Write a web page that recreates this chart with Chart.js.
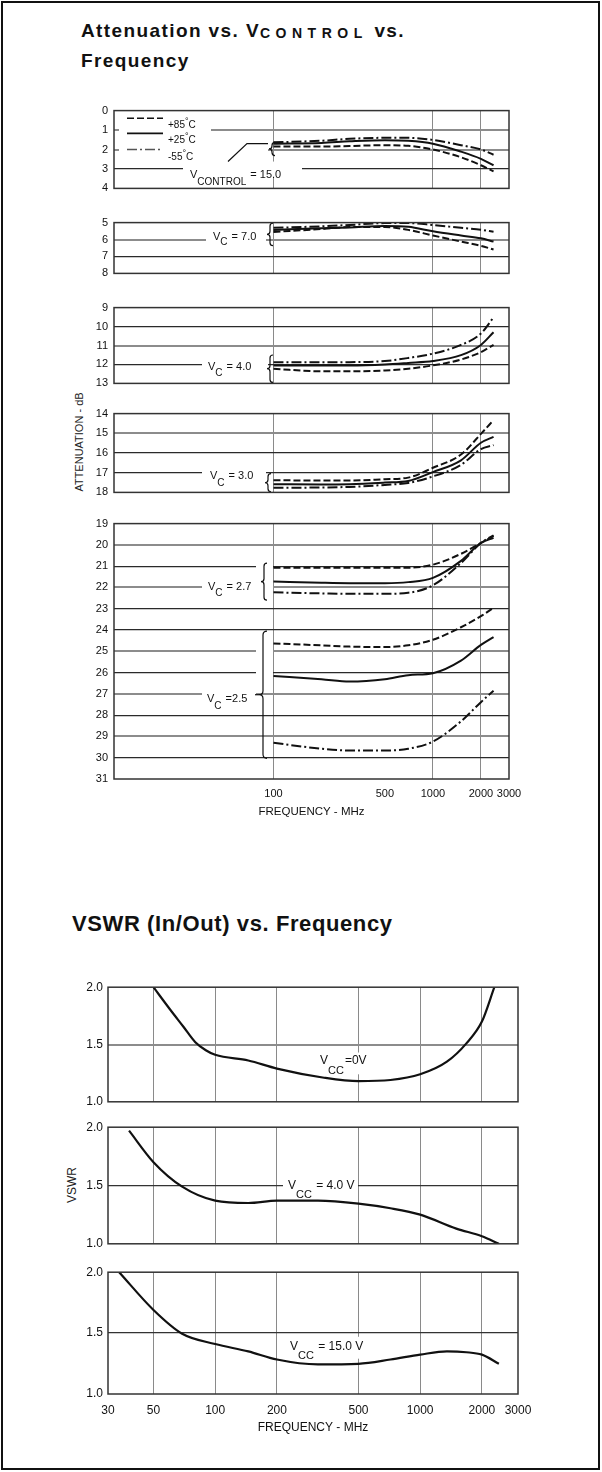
<!DOCTYPE html>
<html><head><meta charset="utf-8">
<title>Attenuation / VSWR vs Frequency</title>
<script src="https://cdn.jsdelivr.net/npm/chart.js@4.4.1/dist/chart.umd.min.js"></script>
<style>
 html,body{margin:0;padding:0;background:#fff}
 body{position:relative;width:602px;height:1472px;overflow:hidden;font-family:'Liberation Sans',Arial,sans-serif;color:#111}
 #frame{position:absolute;left:1px;top:1px;width:595px;height:1465px;border:2px solid #111}
 .t{position:absolute;font-weight:bold;white-space:nowrap;line-height:1;color:#111}
 .ctl{font-size:14px;letter-spacing:5.5px;position:relative;top:1px}
 .yl{position:absolute;white-space:nowrap;font-size:11px;transform:translate(-50%,-50%) rotate(-90deg);color:#222}
 canvas{position:absolute}
</style></head>
<body>
<div id="frame"></div>
<div class="t" style="left:81px;top:21px;font-size:19px;letter-spacing:1.4px">Attenuation vs. V<span class="ctl">CONTROL</span> vs.</div>
<div class="t" style="left:81px;top:51px;font-size:19px;letter-spacing:1.4px">Frequency</div>
<div class="t" style="left:72px;top:913px;font-size:22px;letter-spacing:0.6px">VSWR (In/Out) vs. Frequency</div>
<div class="yl" style="left:79px;top:442px">ATTENUATION - dB</div>
<div class="yl" style="left:72px;top:1185px;font-size:12px">VSWR</div>
<canvas id="a1"></canvas><canvas id="a2"></canvas><canvas id="a3"></canvas><canvas id="a4"></canvas><canvas id="a5"></canvas>
<canvas id="v1"></canvas><canvas id="v2"></canvas><canvas id="v3"></canvas>
<script>
// ---------------- DATA ----------------
const attFreq = [100, 200, 300, 500, 700, 1000, 1500, 2000, 2400];
const tempLabels = ['+85°C', '+25°C', '-55°C'];
// V_CONTROL = 15.0
const vc150_p85 = [1.85, 1.85, 1.82, 1.78, 1.81, 2.00, 2.40, 2.81, 3.13];
const vc150_p25 = [1.70, 1.66, 1.58, 1.52, 1.55, 1.70, 2.11, 2.48, 2.81];
const vc150_m55 = [1.63, 1.55, 1.45, 1.40, 1.40, 1.51, 1.78, 2.00, 2.27];
// V_C = 7.0
const vc70_p85 = [5.55, 5.38, 5.26, 5.26, 5.43, 5.76, 6.12, 6.37, 6.59];
const vc70_p25 = [5.43, 5.34, 5.29, 5.20, 5.25, 5.51, 5.76, 5.93, 6.12];
const vc70_m55 = [5.31, 5.22, 5.14, 5.03, 5.03, 5.14, 5.31, 5.42, 5.54];
// V_C = 4.0
const vc40_p85 = [12.23, 12.36, 12.36, 12.32, 12.23, 12.05, 11.74, 11.35, 10.97];
const vc40_p25 = [12.05, 12.05, 12.05, 12.00, 11.92, 11.82, 11.51, 10.97, 10.30];
const vc40_m55 = [11.89, 11.89, 11.88, 11.82, 11.66, 11.43, 10.97, 10.37, 9.51];
// V_C = 3.0
const vc30_p85 = [17.38, 17.40, 17.40, 17.33, 17.25, 16.75, 16.08, 15.03, 14.33];
const vc30_p25 = [17.58, 17.60, 17.58, 17.50, 17.42, 16.97, 16.37, 15.48, 15.18];
const vc30_m55 = [17.77, 17.75, 17.72, 17.62, 17.52, 17.19, 16.60, 15.80, 15.60];
// V_C = 2.7
const vc27_p85 = [21.07, 21.07, 21.07, 21.07, 21.07, 20.93, 20.42, 19.91, 19.58];
const vc27_p25 = [21.72, 21.78, 21.80, 21.80, 21.75, 21.55, 20.75, 19.91, 19.67];
const vc27_m55 = [22.23, 22.28, 22.30, 22.30, 22.25, 21.90, 20.85, 19.91, 19.55];
// V_C = 2.5
const vc25_p85 = [24.63, 24.72, 24.78, 24.80, 24.72, 24.46, 23.87, 23.35, 22.95];
const vc25_p25 = [26.16, 26.31, 26.42, 26.31, 26.12, 26.03, 25.44, 24.70, 24.33];
const vc25_m55 = [29.30, 29.58, 29.66, 29.66, 29.58, 29.24, 28.29, 27.39, 26.85];

const attXTicks = [100, 500, 1000, 2000, 3000];
const attXTickLabels = ['100', '500', '1000', '2000', '3000'];
const attXGridAt = [100, 1000, 2000];
const attYTicks = [[0,1,2,3,4],[5,6,7,8],[9,10,11,12,13],[14,15,16,17,18],[19,20,21,22,23,24,25,26,27,28,29,30,31]];
const attDarkLines = [3, 7, 10, 12, 16, 17, 21, 23, 24, 26, 28, 30];

// VSWR
const vswr0Freq  = [50, 60, 70, 80, 90, 100, 145, 200, 340, 500, 716, 1000, 1350, 1680, 2000, 2300];
const vswr0      = [2.00, 1.81, 1.655, 1.52, 1.45, 1.41, 1.36, 1.29, 1.21, 1.18, 1.19, 1.24, 1.35, 1.51, 1.70, 2.00];
const vswr4Freq  = [38, 50, 69, 100, 145, 200, 317, 500, 716, 1000, 1500, 2000, 2420];
const vswr4      = [1.97, 1.70, 1.49, 1.37, 1.35, 1.37, 1.37, 1.345, 1.305, 1.25, 1.13, 1.065, 1.00];
const vswr15Freq = [34, 50, 69, 100, 145, 200, 317, 500, 716, 1000, 1350, 1680, 2000, 2420];
const vswr15     = [2.00, 1.69, 1.495, 1.41, 1.35, 1.283, 1.243, 1.248, 1.283, 1.323, 1.35, 1.343, 1.323, 1.248];

const vswrXTicks = [30, 50, 100, 200, 500, 1000, 2000, 3000];
const vswrXTickLabels = ['30', '50', '100', '200', '500', '1000', '2000', '3000'];
const vswrXGridAt = [50, 100, 200, 500, 1000, 2000];
const vswrYTicks = [1.0, 1.5, 2.0];
const vswrYTickLabels = ['1.0', '1.5', '2.0'];

// ---------------- RENDER ----------------
const FAM = "'Liberation Sans', Arial, sans-serif";
const INK = '#111';
const DASH = [[7, 3], [], [10, 3, 2, 3]];
const pts = (fs, vs) => fs.map((f, i) => ({x: f, y: vs[i]}));
const tempSets = (a, b, c) => [a, b, c].map((vals, i) => ({
  label: tempLabels[i], data: pts(attFreq, vals), borderDash: DASH[i],
  borderColor: INK, borderWidth: 2, pointRadius: 0, cubicInterpolationMode: 'monotone', fill: false
}));
const oneSet = (label, fs, vs) => [{label, data: pts(fs, vs), borderColor: INK, borderWidth: 2.2,
  pointRadius: 0, cubicInterpolationMode: 'monotone', fill: false}];

function rich(ctx, x, y, parts, size, subDy) {
  let cx = x;
  for (const [t, k] of parts) {
    const s = k === 0 ? size : size - 1;
    ctx.font = s + 'px ' + FAM;
    const dy = k === 1 ? subDy : (k === 2 ? -4 : 0);
    ctx.fillText(t, cx, y + dy);
    cx += ctx.measureText(t).width + (k === 1 ? 1 : 0);
  }
}
function brace(ctx, x, y1, y2, w) {
  const ym = (y1 + y2) / 2;
  ctx.beginPath();
  ctx.moveTo(x + w, y1);
  ctx.quadraticCurveTo(x, y1, x, y1 + w);
  ctx.lineTo(x, ym - w);
  ctx.quadraticCurveTo(x, ym, x - w, ym);
  ctx.quadraticCurveTo(x, ym, x, ym + w);
  ctx.lineTo(x, y2 - w);
  ctx.quadraticCurveTo(x, y2, x + w, y2);
  ctx.stroke();
}

function panel(id, rect, m, cfg) {
  const cv = document.getElementById(id);
  const W = rect.R - rect.L + m.l + m.r, H = rect.B - rect.T + m.t + m.b;
  const ox = rect.L - m.l, oy = rect.T - m.t;
  cv.width = W; cv.height = H;
  Object.assign(cv.style, {left: ox + 'px', top: oy + 'px', width: W + 'px', height: H + 'px'});
  const a = cfg.ann || {};
  const annPlugin = {
    id: 'ann',
    beforeDatasetsDraw(chart) {
      const ctx = chart.ctx, ys = chart.scales.y;
      const X = px => px - ox, Y = v => ys.getPixelForValue(v);
      ctx.save();
      ctx.fillStyle = '#fff';
      (a.masks || []).forEach(([x1, x2, v1, v2]) => {
        const ya = Y(v1), yb = Y(v2);
        ctx.fillRect(X(x1), Math.min(ya, yb), x2 - x1, Math.abs(yb - ya));
      });
      ctx.strokeStyle = INK; ctx.fillStyle = INK; ctx.lineWidth = 1.2;
      ctx.textBaseline = 'alphabetic'; ctx.textAlign = 'left';
      (a.labels || []).forEach(l => rich(ctx, X(l.x), Y(l.v) + l.dy, l.parts, l.size, l.sub));
      (a.braces || []).forEach(b => brace(ctx, X(b.x), Y(b.v1), Y(b.v2), b.w));
      (a.leaders || []).forEach(path => {
        ctx.beginPath();
        path.forEach(([px, v], i) => i ? ctx.lineTo(X(px), Y(v)) : ctx.moveTo(X(px), Y(v)));
        ctx.stroke();
      });
      if (a.legend) {
        const L = a.legend;
        chart.data.datasets.forEach((ds, i) => {
          const y = Y(L.vs[i]);
          ctx.save();
          ctx.lineWidth = 1.6; ctx.setLineDash(ds.borderDash || []);
          ctx.strokeStyle = i === 2 ? '#555' : INK;
          ctx.beginPath(); ctx.moveTo(X(L.x1), y); ctx.lineTo(X(L.x2), y); ctx.stroke();
          ctx.restore();
          const [pre, post] = ds.label.split('°');
          rich(ctx, X(L.tx), y + L.dy, [[pre, 0], ['°', 2], [post, 0]], L.size, 0);
        });
      }
      ctx.restore();
    },
    afterDatasetsDraw(chart) {
      const {left, top, right, bottom} = chart.chartArea, ctx = chart.ctx;
      ctx.save(); ctx.strokeStyle = '#333'; ctx.lineWidth = 1.5;
      ctx.strokeRect(left, top, right - left, bottom - top); ctx.restore();
    }
  };
  const none = 'rgba(0,0,0,0)';
  return new Chart(cv, {
    type: 'line',
    data: {datasets: cfg.datasets},
    options: {
      responsive: false, maintainAspectRatio: false, animation: false, devicePixelRatio: 1,
      layout: {padding: {top: m.t, right: m.r, left: 0, bottom: 0}},
      plugins: {legend: {display: false}, tooltip: {enabled: false}},
      scales: {
        x: {
          type: 'logarithmic', min: cfg.xMin, max: cfg.xMax,
          afterBuildTicks: s => { s.ticks = cfg.xTicks.map(v => ({value: v})); },
          afterFit: s => { s.height = m.b; },
          border: {display: false},
          grid: {drawTicks: false, lineWidth: 1,
                 color: c => (c.tick && cfg.xGrid.includes(c.tick.value)) ? '#8a8a8a' : none},
          ticks: {display: cfg.showX, autoSkip: false, maxRotation: 0, minRotation: 0, padding: cfg.xPad,
                  color: INK, font: {family: FAM, size: cfg.xFont}, callback: (v, i) => cfg.xLabels[i]},
          title: {display: cfg.showX, text: 'FREQUENCY - MHz', color: INK,
                  font: {family: FAM, size: cfg.titleFont}, padding: 0}
        },
        y: {
          type: 'linear', reverse: cfg.reverse, min: cfg.yMin, max: cfg.yMax,
          afterBuildTicks: s => { s.ticks = cfg.yTicks.map(v => ({value: v})); },
          afterFit: s => { s.width = m.l; },
          border: {display: false},
          grid: {drawTicks: false,
                 color: c => c.tick ? cfg.yGridColor(c.tick.value) : none,
                 lineWidth: c => c.tick ? cfg.yGridWidth(c.tick.value) : 0},
          ticks: {autoSkip: false, padding: cfg.yPad, color: INK, font: {family: FAM, size: cfg.yFont},
                  callback: (v, i) => cfg.yLabels[i]}
        }
      }
    },
    plugins: [annPlugin]
  });
}

// ---- Attenuation panels ----
const attRects = [[106,193],[218,278],[303,388],[409,497],[519,779]];
const attSets = [
  tempSets(vc150_p85, vc150_p25, vc150_m55),
  tempSets(vc70_p85, vc70_p25, vc70_m55),
  tempSets(vc40_p85, vc40_p25, vc40_m55),
  tempSets(vc30_p85, vc30_p25, vc30_m55),
  [...tempSets(vc27_p85, vc27_p25, vc27_m55), ...tempSets(vc25_p85, vc25_p25, vc25_m55)]
];
const VC = t => [['V', 0], ['C', 1], [t, 0]];
const attAnn = [
  {masks: [[119,211,0.12,2.45],[211,268,1.55,2.45],[183,302,2.62,3.42]],
   labels: [{x:190, v:3, dy:9, sub:7, size:11, parts:[['V',0],['CONTROL',1],[' = 15.0',0]]}],
   braces: [{x:272, v1:1.63, v2:2.31, w:3}],
   leaders: [[[268,1.70],[247,1.70],[228,2.62]]],
   legend: {x1:127, x2:163, tx:168, vs:[0.39,1.17,2.0], dy:10, size:10}},
  {masks: [[206,266,5.62,6.38]],
   labels: [{x:213, v:6, dy:0, sub:5, size:11, parts: VC(' = 7.0')}],
   braces: [{x:270, v1:5.03, v2:6.36, w:3}]},
  {masks: [[202,268,11.58,12.45]],
   labels: [{x:208, v:12, dy:6, sub:6, size:11, parts: VC(' = 4.0')}],
   braces: [{x:270, v1:11.5, v2:12.95, w:3}]},
  {masks: [[202,266,16.6,17.45]],
   labels: [{x:210, v:17, dy:6, sub:7, size:11, parts: VC(' = 3.0')}],
   braces: [{x:268, v1:17.05, v2:17.97, w:3}]},
  {masks: [[202,256,21.6,22.45],[256,273,20.75,22.7],[202,256,26.6,27.5],[256,273,24.5,26.5]],
   labels: [{x:208, v:22, dy:3, sub:6, size:11, parts: VC(' = 2.7')},
            {x:207, v:27, dy:8, sub:7, size:11, parts: VC(' =2.5')}],
   braces: [{x:264, v1:20.86, v2:22.6, w:3}, {x:263, v1:24.05, v2:30.03, w:4}],
   leaders: [[[255,27.04],[259,27.04]]]}
];
attRects.forEach(([T, B], i) => {
  const last = i === attRects.length - 1;
  const yt = attYTicks[i];
  panel('a' + (i + 1), {L: 114, R: 509, T, B}, {l: 54, r: 24, t: 8, b: last ? 40 : 8}, {
    datasets: attSets[i], ann: attAnn[i],
    xMin: 10, xMax: 3000, xTicks: attXTicks, xLabels: attXTickLabels, xGrid: attXGridAt,
    showX: last, xPad: 8, xFont: 11, titleFont: 11.5,
    reverse: true, yMin: yt[0], yMax: yt[yt.length - 1], yTicks: yt, yLabels: yt.map(String),
    yPad: 6, yFont: 11,
    yGridColor: v => (v === yt[0] || v === yt[yt.length - 1]) ? 'rgba(0,0,0,0)' : (attDarkLines.includes(v) ? '#2a2a2a' : '#8c8c8c'),
    yGridWidth: v => attDarkLines.includes(v) ? 1.3 : 2
  });
});

// ---- VSWR panels ----
const vRects = [[983,1106],[1123,1248],[1268,1394]];
const vSets = [oneSet('VCC=0V', vswr0Freq, vswr0), oneSet('VCC=4.0V', vswr4Freq, vswr4), oneSet('VCC=15.0V', vswr15Freq, vswr15)];
const VCC = t => [['V', 0], ['CC', 1], [t, 0]];
const vAnn = [
  {masks: [[316,374,1.43,1.24]], labels: [{x:320, v:1.333, dy:0, sub:10, size:12, parts: VCC('=0V')}]},
  {masks: [[283,358,1.56,1.44]], labels: [{x:288, v:1.5, dy:3, sub:9, size:12, parts: VCC(' = 4.0 V')}]},
  {masks: [[286,368,1.47,1.29]], labels: [{x:290, v:1.365, dy:0, sub:9, size:12, parts: VCC(' = 15.0 V')}]}
];
vRects.forEach(([T, B], i) => {
  const last = i === vRects.length - 1;
  panel('v' + (i + 1), {L: 108, R: 518, T, B}, {l: 50, r: 24, t: 8, b: last ? 41 : 8}, {
    datasets: vSets[i], ann: vAnn[i],
    xMin: 30, xMax: 3000, xTicks: vswrXTicks, xLabels: vswrXTickLabels, xGrid: vswrXGridAt,
    showX: last, xPad: 9, xFont: 12, titleFont: 12,
    reverse: false, yMin: 1.0, yMax: 2.0, yTicks: vswrYTicks, yLabels: vswrYTickLabels,
    yPad: 5, yFont: 12,
    yGridColor: v => v === 1.5 ? (i === 0 ? '#8c8c8c' : '#333') : 'rgba(0,0,0,0)',
    yGridWidth: v => (i === 0 ? 2 : 1.3)
  });
});
</script>
</body></html>
